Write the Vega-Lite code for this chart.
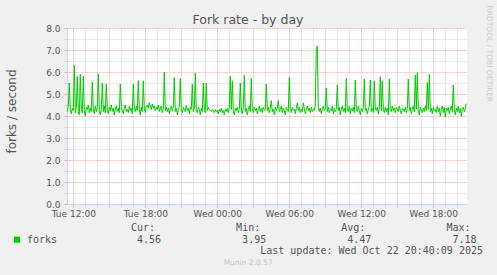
{
  "$schema": "https://vega.github.io/schema/vega-lite/v6.json",
  "width": 400,
  "height": 176,
  "autosize": {"type": "none"},
  "padding": {"left": 67, "top": 28, "right": 30, "bottom": 71},
  "background": "#F0F0F0",
  "view": {"fill": "#FFFFFF", "stroke": null},
  "config": {"font": "DejaVu Sans"},
  "title": {"text": "Fork rate - by day", "font": "DejaVu Sans", "fontSize": 12.5, "fontWeight": "normal", "color": "#555555", "anchor": "middle", "frame": "group", "dx": -19, "dy": 35, "offset": 4, "baseline": "alphabetic"},
  "layer": [
    {
      "data": {"values": [
        {"t":"2025-10-21T11:30","v":4.20},{"t":"2025-10-21T11:35","v":4.45},{"t":"2025-10-21T11:40","v":5.50},{"t":"2025-10-21T11:45","v":4.30},{"t":"2025-10-21T11:50","v":4.10},{"t":"2025-10-21T11:55","v":4.35},
        {"t":"2025-10-21T12:00","v":4.25},{"t":"2025-10-21T12:05","v":6.30},{"t":"2025-10-21T12:10","v":4.15},{"t":"2025-10-21T12:15","v":4.40},{"t":"2025-10-21T12:20","v":5.80},{"t":"2025-10-21T12:25","v":4.20},{"t":"2025-10-21T12:30","v":4.05},{"t":"2025-10-21T12:35","v":5.90},{"t":"2025-10-21T12:40","v":4.30},{"t":"2025-10-21T12:45","v":4.15},{"t":"2025-10-21T12:50","v":5.80},{"t":"2025-10-21T12:55","v":4.25},
        {"t":"2025-10-21T13:00","v":4.00},{"t":"2025-10-21T13:05","v":4.40},{"t":"2025-10-21T13:10","v":4.30},{"t":"2025-10-21T13:15","v":4.50},{"t":"2025-10-21T13:20","v":4.15},{"t":"2025-10-21T13:25","v":4.35},{"t":"2025-10-21T13:30","v":4.20},{"t":"2025-10-21T13:35","v":5.55},{"t":"2025-10-21T13:40","v":4.30},{"t":"2025-10-21T13:45","v":4.10},{"t":"2025-10-21T13:50","v":4.45},{"t":"2025-10-21T13:55","v":4.20},
        {"t":"2025-10-21T14:00","v":4.40},{"t":"2025-10-21T14:05","v":5.90},{"t":"2025-10-21T14:10","v":4.25},{"t":"2025-10-21T14:15","v":4.05},{"t":"2025-10-21T14:20","v":4.30},{"t":"2025-10-21T14:25","v":5.50},{"t":"2025-10-21T14:30","v":4.20},{"t":"2025-10-21T14:35","v":4.45},{"t":"2025-10-21T14:40","v":4.15},{"t":"2025-10-21T14:45","v":5.45},{"t":"2025-10-21T14:50","v":4.30},{"t":"2025-10-21T14:55","v":4.10},
        {"t":"2025-10-21T15:00","v":4.40},{"t":"2025-10-21T15:05","v":4.25},{"t":"2025-10-21T15:10","v":4.50},{"t":"2025-10-21T15:15","v":4.20},{"t":"2025-10-21T15:20","v":4.35},{"t":"2025-10-21T15:25","v":4.05},{"t":"2025-10-21T15:30","v":4.30},{"t":"2025-10-21T15:35","v":4.45},{"t":"2025-10-21T15:40","v":4.20},{"t":"2025-10-21T15:45","v":4.35},{"t":"2025-10-21T15:50","v":4.15},{"t":"2025-10-21T15:55","v":5.45},
        {"t":"2025-10-21T16:00","v":4.40},{"t":"2025-10-21T16:05","v":4.25},{"t":"2025-10-21T16:10","v":4.10},{"t":"2025-10-21T16:15","v":4.35},{"t":"2025-10-21T16:20","v":4.50},{"t":"2025-10-21T16:25","v":4.20},{"t":"2025-10-21T16:30","v":4.30},{"t":"2025-10-21T16:35","v":4.15},{"t":"2025-10-21T16:40","v":4.45},{"t":"2025-10-21T16:45","v":4.25},{"t":"2025-10-21T16:50","v":4.35},{"t":"2025-10-21T16:55","v":4.10},
        {"t":"2025-10-21T17:00","v":5.45},{"t":"2025-10-21T17:05","v":4.30},{"t":"2025-10-21T17:10","v":4.20},{"t":"2025-10-21T17:15","v":4.45},{"t":"2025-10-21T17:20","v":4.25},{"t":"2025-10-21T17:25","v":5.60},{"t":"2025-10-21T17:30","v":4.30},{"t":"2025-10-21T17:35","v":4.05},{"t":"2025-10-21T17:40","v":4.40},{"t":"2025-10-21T17:45","v":4.20},{"t":"2025-10-21T17:50","v":5.60},{"t":"2025-10-21T17:55","v":4.35},
        {"t":"2025-10-21T18:00","v":4.15},{"t":"2025-10-21T18:05","v":4.45},{"t":"2025-10-21T18:10","v":4.50},{"t":"2025-10-21T18:15","v":4.35},{"t":"2025-10-21T18:20","v":4.60},{"t":"2025-10-21T18:25","v":4.40},{"t":"2025-10-21T18:30","v":4.30},{"t":"2025-10-21T18:35","v":4.55},{"t":"2025-10-21T18:40","v":4.35},{"t":"2025-10-21T18:45","v":4.45},{"t":"2025-10-21T18:50","v":4.25},{"t":"2025-10-21T18:55","v":4.40},
        {"t":"2025-10-21T19:00","v":4.30},{"t":"2025-10-21T19:05","v":4.50},{"t":"2025-10-21T19:10","v":4.20},{"t":"2025-10-21T19:15","v":4.35},{"t":"2025-10-21T19:20","v":4.45},{"t":"2025-10-21T19:25","v":4.15},{"t":"2025-10-21T19:30","v":4.30},{"t":"2025-10-21T19:35","v":6.00},{"t":"2025-10-21T19:40","v":4.25},{"t":"2025-10-21T19:45","v":4.40},{"t":"2025-10-21T19:50","v":4.20},{"t":"2025-10-21T19:55","v":4.35},
        {"t":"2025-10-21T20:00","v":4.10},{"t":"2025-10-21T20:05","v":4.30},{"t":"2025-10-21T20:10","v":4.45},{"t":"2025-10-21T20:15","v":4.25},{"t":"2025-10-21T20:20","v":4.40},{"t":"2025-10-21T20:25","v":5.75},{"t":"2025-10-21T20:30","v":4.20},{"t":"2025-10-21T20:35","v":4.35},{"t":"2025-10-21T20:40","v":4.05},{"t":"2025-10-21T20:45","v":4.30},{"t":"2025-10-21T20:50","v":4.45},{"t":"2025-10-21T20:55","v":5.70},
        {"t":"2025-10-21T21:00","v":4.25},{"t":"2025-10-21T21:05","v":4.15},{"t":"2025-10-21T21:10","v":4.40},{"t":"2025-10-21T21:15","v":4.30},{"t":"2025-10-21T21:20","v":4.20},{"t":"2025-10-21T21:25","v":4.50},{"t":"2025-10-21T21:30","v":4.25},{"t":"2025-10-21T21:35","v":4.35},{"t":"2025-10-21T21:40","v":4.10},{"t":"2025-10-21T21:45","v":4.40},{"t":"2025-10-21T21:50","v":4.30},{"t":"2025-10-21T21:55","v":5.45},
        {"t":"2025-10-21T22:00","v":4.20},{"t":"2025-10-21T22:05","v":4.35},{"t":"2025-10-21T22:10","v":5.95},{"t":"2025-10-21T22:15","v":4.25},{"t":"2025-10-21T22:20","v":4.15},{"t":"2025-10-21T22:25","v":4.40},{"t":"2025-10-21T22:30","v":4.30},{"t":"2025-10-21T22:35","v":4.05},{"t":"2025-10-21T22:40","v":4.35},{"t":"2025-10-21T22:45","v":4.20},{"t":"2025-10-21T22:50","v":5.50},{"t":"2025-10-21T22:55","v":4.30},
        {"t":"2025-10-21T23:00","v":4.15},{"t":"2025-10-21T23:05","v":5.50},{"t":"2025-10-21T23:10","v":4.25},{"t":"2025-10-21T23:15","v":4.40},{"t":"2025-10-21T23:20","v":4.30},{"t":"2025-10-21T23:25","v":4.25},{"t":"2025-10-21T23:30","v":4.20},{"t":"2025-10-21T23:35","v":4.30},{"t":"2025-10-21T23:40","v":4.25},{"t":"2025-10-21T23:45","v":4.15},{"t":"2025-10-21T23:50","v":4.30},{"t":"2025-10-21T23:55","v":4.20},
        {"t":"2025-10-22T00:00","v":4.25},{"t":"2025-10-22T00:05","v":4.10},{"t":"2025-10-22T00:10","v":4.30},{"t":"2025-10-22T00:15","v":4.20},{"t":"2025-10-22T00:20","v":4.35},{"t":"2025-10-22T00:25","v":4.15},{"t":"2025-10-22T00:30","v":4.25},{"t":"2025-10-22T00:35","v":4.05},{"t":"2025-10-22T00:40","v":4.30},{"t":"2025-10-22T00:45","v":4.20},{"t":"2025-10-22T00:50","v":4.35},{"t":"2025-10-22T00:55","v":4.15},
        {"t":"2025-10-22T01:00","v":4.40},{"t":"2025-10-22T01:05","v":5.80},{"t":"2025-10-22T01:10","v":4.30},{"t":"2025-10-22T01:15","v":5.60},{"t":"2025-10-22T01:20","v":4.20},{"t":"2025-10-22T01:25","v":4.05},{"t":"2025-10-22T01:30","v":4.35},{"t":"2025-10-22T01:35","v":4.25},{"t":"2025-10-22T01:40","v":4.40},{"t":"2025-10-22T01:45","v":4.15},{"t":"2025-10-22T01:50","v":4.30},{"t":"2025-10-22T01:55","v":5.50},
        {"t":"2025-10-22T02:00","v":4.25},{"t":"2025-10-22T02:05","v":4.10},{"t":"2025-10-22T02:10","v":4.40},{"t":"2025-10-22T02:15","v":5.85},{"t":"2025-10-22T02:20","v":4.20},{"t":"2025-10-22T02:25","v":4.35},{"t":"2025-10-22T02:30","v":4.05},{"t":"2025-10-22T02:35","v":4.30},{"t":"2025-10-22T02:40","v":4.45},{"t":"2025-10-22T02:45","v":4.20},{"t":"2025-10-22T02:50","v":5.70},{"t":"2025-10-22T02:55","v":4.30},
        {"t":"2025-10-22T03:00","v":4.15},{"t":"2025-10-22T03:05","v":4.40},{"t":"2025-10-22T03:10","v":4.25},{"t":"2025-10-22T03:15","v":4.35},{"t":"2025-10-22T03:20","v":4.10},{"t":"2025-10-22T03:25","v":4.30},{"t":"2025-10-22T03:30","v":4.45},{"t":"2025-10-22T03:35","v":4.20},{"t":"2025-10-22T03:40","v":4.35},{"t":"2025-10-22T03:45","v":4.15},{"t":"2025-10-22T03:50","v":4.40},{"t":"2025-10-22T03:55","v":4.25},
        {"t":"2025-10-22T04:00","v":4.30},{"t":"2025-10-22T04:05","v":5.45},{"t":"2025-10-22T04:10","v":4.25},{"t":"2025-10-22T04:15","v":4.40},{"t":"2025-10-22T04:20","v":4.15},{"t":"2025-10-22T04:25","v":4.35},{"t":"2025-10-22T04:30","v":4.70},{"t":"2025-10-22T04:35","v":4.20},{"t":"2025-10-22T04:40","v":4.30},{"t":"2025-10-22T04:45","v":4.05},{"t":"2025-10-22T04:50","v":4.40},{"t":"2025-10-22T04:55","v":4.25},
        {"t":"2025-10-22T05:00","v":4.35},{"t":"2025-10-22T05:05","v":4.70},{"t":"2025-10-22T05:10","v":4.20},{"t":"2025-10-22T05:15","v":4.30},{"t":"2025-10-22T05:20","v":4.45},{"t":"2025-10-22T05:25","v":4.15},{"t":"2025-10-22T05:30","v":4.35},{"t":"2025-10-22T05:35","v":4.25},{"t":"2025-10-22T05:40","v":4.05},{"t":"2025-10-22T05:45","v":4.40},{"t":"2025-10-22T05:50","v":4.30},{"t":"2025-10-22T05:55","v":4.20},
        {"t":"2025-10-22T06:00","v":5.75},{"t":"2025-10-22T06:05","v":4.35},{"t":"2025-10-22T06:10","v":4.15},{"t":"2025-10-22T06:15","v":4.40},{"t":"2025-10-22T06:20","v":4.25},{"t":"2025-10-22T06:25","v":4.30},{"t":"2025-10-22T06:30","v":4.10},{"t":"2025-10-22T06:35","v":4.35},{"t":"2025-10-22T06:40","v":4.60},{"t":"2025-10-22T06:45","v":4.25},{"t":"2025-10-22T06:50","v":4.40},{"t":"2025-10-22T06:55","v":4.15},
        {"t":"2025-10-22T07:00","v":4.30},{"t":"2025-10-22T07:05","v":4.20},{"t":"2025-10-22T07:10","v":4.60},{"t":"2025-10-22T07:15","v":4.35},{"t":"2025-10-22T07:20","v":4.10},{"t":"2025-10-22T07:25","v":4.30},{"t":"2025-10-22T07:30","v":4.45},{"t":"2025-10-22T07:35","v":4.25},{"t":"2025-10-22T07:40","v":4.35},{"t":"2025-10-22T07:45","v":4.15},{"t":"2025-10-22T07:50","v":4.40},{"t":"2025-10-22T07:55","v":4.20},
        {"t":"2025-10-22T08:00","v":4.30},{"t":"2025-10-22T08:05","v":4.25},{"t":"2025-10-22T08:10","v":4.50},{"t":"2025-10-22T08:15","v":7.10},{"t":"2025-10-22T08:20","v":7.18},{"t":"2025-10-22T08:25","v":4.40},{"t":"2025-10-22T08:30","v":4.20},{"t":"2025-10-22T08:35","v":4.35},{"t":"2025-10-22T08:40","v":4.10},{"t":"2025-10-22T08:45","v":4.30},{"t":"2025-10-22T08:50","v":4.45},{"t":"2025-10-22T08:55","v":4.25},
        {"t":"2025-10-22T09:00","v":4.35},{"t":"2025-10-22T09:05","v":5.28},{"t":"2025-10-22T09:10","v":4.20},{"t":"2025-10-22T09:15","v":4.40},{"t":"2025-10-22T09:20","v":4.15},{"t":"2025-10-22T09:25","v":4.30},{"t":"2025-10-22T09:30","v":4.25},{"t":"2025-10-22T09:35","v":4.45},{"t":"2025-10-22T09:40","v":4.10},{"t":"2025-10-22T09:45","v":4.35},{"t":"2025-10-22T09:50","v":4.20},{"t":"2025-10-22T09:55","v":4.30},
        {"t":"2025-10-22T10:00","v":5.41},{"t":"2025-10-22T10:05","v":4.25},{"t":"2025-10-22T10:10","v":4.40},{"t":"2025-10-22T10:15","v":4.05},{"t":"2025-10-22T10:20","v":4.30},{"t":"2025-10-22T10:25","v":4.45},{"t":"2025-10-22T10:30","v":4.20},{"t":"2025-10-22T10:35","v":4.35},{"t":"2025-10-22T10:40","v":4.15},{"t":"2025-10-22T10:45","v":5.71},{"t":"2025-10-22T10:50","v":4.30},{"t":"2025-10-22T10:55","v":4.20},
        {"t":"2025-10-22T11:00","v":4.45},{"t":"2025-10-22T11:05","v":4.10},{"t":"2025-10-22T11:10","v":4.35},{"t":"2025-10-22T11:15","v":4.25},{"t":"2025-10-22T11:20","v":4.40},{"t":"2025-10-22T11:25","v":4.15},{"t":"2025-10-22T11:30","v":5.64},{"t":"2025-10-22T11:35","v":4.30},{"t":"2025-10-22T11:40","v":4.20},{"t":"2025-10-22T11:45","v":4.45},{"t":"2025-10-22T11:50","v":4.25},{"t":"2025-10-22T11:55","v":4.05},
        {"t":"2025-10-22T12:00","v":4.35},{"t":"2025-10-22T12:05","v":4.20},{"t":"2025-10-22T12:10","v":4.40},{"t":"2025-10-22T12:15","v":5.68},{"t":"2025-10-22T12:20","v":4.25},{"t":"2025-10-22T12:25","v":4.35},{"t":"2025-10-22T12:30","v":4.10},{"t":"2025-10-22T12:35","v":4.30},{"t":"2025-10-22T12:40","v":4.45},{"t":"2025-10-22T12:45","v":5.64},{"t":"2025-10-22T12:50","v":4.20},{"t":"2025-10-22T12:55","v":4.35},
        {"t":"2025-10-22T13:00","v":4.15},{"t":"2025-10-22T13:05","v":5.60},{"t":"2025-10-22T13:10","v":4.30},{"t":"2025-10-22T13:15","v":4.25},{"t":"2025-10-22T13:20","v":4.40},{"t":"2025-10-22T13:25","v":4.10},{"t":"2025-10-22T13:30","v":4.35},{"t":"2025-10-22T13:35","v":5.78},{"t":"2025-10-22T13:40","v":4.25},{"t":"2025-10-22T13:45","v":5.60},{"t":"2025-10-22T13:50","v":4.30},{"t":"2025-10-22T13:55","v":4.15},
        {"t":"2025-10-22T14:00","v":4.40},{"t":"2025-10-22T14:05","v":4.20},{"t":"2025-10-22T14:10","v":4.35},{"t":"2025-10-22T14:15","v":4.05},{"t":"2025-10-22T14:20","v":5.68},{"t":"2025-10-22T14:25","v":4.30},{"t":"2025-10-22T14:30","v":4.20},{"t":"2025-10-22T14:35","v":4.45},{"t":"2025-10-22T14:40","v":4.25},{"t":"2025-10-22T14:45","v":4.35},{"t":"2025-10-22T14:50","v":4.15},{"t":"2025-10-22T14:55","v":4.40},
        {"t":"2025-10-22T15:00","v":4.30},{"t":"2025-10-22T15:05","v":4.20},{"t":"2025-10-22T15:10","v":4.45},{"t":"2025-10-22T15:15","v":4.25},{"t":"2025-10-22T15:20","v":4.10},{"t":"2025-10-22T15:25","v":4.35},{"t":"2025-10-22T15:30","v":4.30},{"t":"2025-10-22T15:35","v":4.20},{"t":"2025-10-22T15:40","v":4.40},{"t":"2025-10-22T15:45","v":4.15},{"t":"2025-10-22T15:50","v":4.35},{"t":"2025-10-22T15:55","v":5.68},
        {"t":"2025-10-22T16:00","v":4.25},{"t":"2025-10-22T16:05","v":4.40},{"t":"2025-10-22T16:10","v":4.10},{"t":"2025-10-22T16:15","v":4.30},{"t":"2025-10-22T16:20","v":4.45},{"t":"2025-10-22T16:25","v":4.20},{"t":"2025-10-22T16:30","v":5.86},{"t":"2025-10-22T16:35","v":4.30},{"t":"2025-10-22T16:40","v":5.97},{"t":"2025-10-22T16:45","v":4.25},{"t":"2025-10-22T16:50","v":4.05},{"t":"2025-10-22T16:55","v":4.40},
        {"t":"2025-10-22T17:00","v":4.30},{"t":"2025-10-22T17:05","v":4.15},{"t":"2025-10-22T17:10","v":4.35},{"t":"2025-10-22T17:15","v":4.20},{"t":"2025-10-22T17:20","v":4.45},{"t":"2025-10-22T17:25","v":4.25},{"t":"2025-10-22T17:30","v":5.52},{"t":"2025-10-22T17:35","v":4.30},{"t":"2025-10-22T17:40","v":5.90},{"t":"2025-10-22T17:45","v":4.20},{"t":"2025-10-22T17:50","v":4.35},{"t":"2025-10-22T17:55","v":4.10},
        {"t":"2025-10-22T18:00","v":4.40},{"t":"2025-10-22T18:05","v":4.25},{"t":"2025-10-22T18:10","v":4.30},{"t":"2025-10-22T18:15","v":4.15},{"t":"2025-10-22T18:20","v":4.45},{"t":"2025-10-22T18:25","v":4.20},{"t":"2025-10-22T18:30","v":4.35},{"t":"2025-10-22T18:35","v":4.00},{"t":"2025-10-22T18:40","v":4.30},{"t":"2025-10-22T18:45","v":4.45},{"t":"2025-10-22T18:50","v":4.15},{"t":"2025-10-22T18:55","v":4.40},
        {"t":"2025-10-22T19:00","v":3.95},{"t":"2025-10-22T19:05","v":4.35},{"t":"2025-10-22T19:10","v":4.25},{"t":"2025-10-22T19:15","v":4.40},{"t":"2025-10-22T19:20","v":4.10},{"t":"2025-10-22T19:25","v":4.30},{"t":"2025-10-22T19:30","v":4.45},{"t":"2025-10-22T19:35","v":4.20},{"t":"2025-10-22T19:40","v":5.41},{"t":"2025-10-22T19:45","v":4.30},{"t":"2025-10-22T19:50","v":4.05},{"t":"2025-10-22T19:55","v":4.35},
        {"t":"2025-10-22T20:00","v":4.20},{"t":"2025-10-22T20:05","v":4.45},{"t":"2025-10-22T20:10","v":4.15},{"t":"2025-10-22T20:15","v":4.35},{"t":"2025-10-22T20:20","v":3.98},{"t":"2025-10-22T20:25","v":4.30},{"t":"2025-10-22T20:30","v":4.40},{"t":"2025-10-22T20:35","v":4.20},{"t":"2025-10-22T20:40","v":4.35},{"t":"2025-10-22T20:45","v":4.56}
      ]},
      "mark": {"type": "line", "strokeWidth": 1, "color": "#00CC00"},
      "encoding": {
        "x": {
          "field": "t", "type": "temporal",
          "scale": {"domain": [{"year": 2025, "month": 10, "date": 21, "hours": 11, "minutes": 28, "seconds": 30}, {"year": 2025, "month": 10, "date": 22, "hours": 20, "minutes": 48, "seconds": 30}], "nice": false},
          "axis": {
            "title": null,
            "values": [
              {"year": 2025, "month": 10, "date": 21, "hours": 12}, {"year": 2025, "month": 10, "date": 21, "hours": 13}, {"year": 2025, "month": 10, "date": 21, "hours": 14}, {"year": 2025, "month": 10, "date": 21, "hours": 15},
              {"year": 2025, "month": 10, "date": 21, "hours": 16}, {"year": 2025, "month": 10, "date": 21, "hours": 17}, {"year": 2025, "month": 10, "date": 21, "hours": 18}, {"year": 2025, "month": 10, "date": 21, "hours": 19},
              {"year": 2025, "month": 10, "date": 21, "hours": 20}, {"year": 2025, "month": 10, "date": 21, "hours": 21}, {"year": 2025, "month": 10, "date": 21, "hours": 22}, {"year": 2025, "month": 10, "date": 21, "hours": 23},
              {"year": 2025, "month": 10, "date": 22, "hours": 0}, {"year": 2025, "month": 10, "date": 22, "hours": 1}, {"year": 2025, "month": 10, "date": 22, "hours": 2}, {"year": 2025, "month": 10, "date": 22, "hours": 3},
              {"year": 2025, "month": 10, "date": 22, "hours": 4}, {"year": 2025, "month": 10, "date": 22, "hours": 5}, {"year": 2025, "month": 10, "date": 22, "hours": 6}, {"year": 2025, "month": 10, "date": 22, "hours": 7},
              {"year": 2025, "month": 10, "date": 22, "hours": 8}, {"year": 2025, "month": 10, "date": 22, "hours": 9}, {"year": 2025, "month": 10, "date": 22, "hours": 10}, {"year": 2025, "month": 10, "date": 22, "hours": 11},
              {"year": 2025, "month": 10, "date": 22, "hours": 12}, {"year": 2025, "month": 10, "date": 22, "hours": 13}, {"year": 2025, "month": 10, "date": 22, "hours": 14}, {"year": 2025, "month": 10, "date": 22, "hours": 15},
              {"year": 2025, "month": 10, "date": 22, "hours": 16}, {"year": 2025, "month": 10, "date": 22, "hours": 17}, {"year": 2025, "month": 10, "date": 22, "hours": 18}, {"year": 2025, "month": 10, "date": 22, "hours": 19},
              {"year": 2025, "month": 10, "date": 22, "hours": 20}
            ],
            "labelExpr": "hours(datum.value) % 6 === 0 ? timeFormat(datum.value, '%a %H:%M') : ''",
            "labelOverlap": false, "labelFlush": false,
            "labelFont": "DejaVu Sans", "labelFontSize": 9, "labelColor": "#555555", "labelPadding": 2,
            "grid": true,
            "gridColor": {"condition": {"test": "hours(datum.value) % 3 === 0", "value": "#E6AAAA"}, "value": "#D4D4D4"},
            "gridDash": [1, 1],
            "ticks": true, "tickSize": 3,
            "tickColor": {"condition": {"test": "hours(datum.value) % 3 === 0", "value": "#E6AAAA"}, "value": "#D4D4D4"},
            "domainColor": "#CFD6F8"
          }
        },
        "y": {
          "field": "v", "type": "quantitative",
          "scale": {"domain": [0, 8], "nice": false},
          "axis": {
            "title": "forks / second",
            "values": [0, 0.5, 1, 1.5, 2, 2.5, 3, 3.5, 4, 4.5, 5, 5.5, 6, 6.5, 7, 7.5, 8],
            "labelExpr": "datum.value % 1 === 0 ? format(datum.value, '.1f') : ''",
            "labelOverlap": false, "labelFlush": false,
            "labelFont": "DejaVu Sans", "labelFontSize": 9, "labelColor": "#555555", "labelPadding": 4,
            "ticks": true, "tickSize": 3,
            "tickColor": {"condition": {"test": "datum.value % 1 === 0", "value": "#E6AAAA"}, "value": "#D4D4D4"},
            "grid": true,
            "gridColor": {"condition": {"test": "datum.value % 1 === 0", "value": "#E6AAAA"}, "value": "#D4D4D4"},
            "gridDash": [1, 1],
            "domainColor": "#CFD6F8",
            "titleFont": "DejaVu Sans", "titleFontSize": 12, "titleFontWeight": "normal", "titleColor": "#555555",
            "titleAngle": 270, "titleX": -52, "titleY": 83, "titleBaseline": "alphabetic", "titleAlign": "center"
          }
        }
      }
    },
    {
      "data": {"values": [{"stat": "Cur", "label": "Cur:", "val": "4.56"}, {"stat": "Min", "label": "Min:", "val": "3.95"}, {"stat": "Avg", "label": "Avg:", "val": "4.47"}, {"stat": "Max", "label": "Max:", "val": "7.18"}]},
      "mark": {"type": "text", "font": "DejaVu Sans Mono", "fontSize": 10, "color": "#555555", "baseline": "middle"},
      "encoding": {
        "x": {"field": "stat", "type": "nominal", "sort": null, "scale": {"type": "point", "domain": ["Cur", "Min", "Avg", "Max"], "range": [76, 391.5], "padding": 0}, "axis": null},
        "y": {"datum": "head", "type": "nominal", "scale": {"type": "point", "domain": ["head", "val", "upd", "munin"], "range": [200, 235], "padding": 0},
          "axis": {"orient": "right", "title": "RRDTOOL / TOBI OETIKER", "labels": false, "ticks": false, "domain": false, "grid": false,
            "titleAngle": 90, "titleX": 19, "titleY": -23, "titleAlign": "left", "titleBaseline": "alphabetic",
            "titleFont": "DejaVu Sans", "titleFontSize": 7.5, "titleFontWeight": "normal", "titleColor": "#CCCCCC"}},
        "text": {"field": "label"}
      }
    },
    {
      "data": {"values": [{"stat": "Cur", "label": "Cur:", "val": "4.56"}, {"stat": "Min", "label": "Min:", "val": "3.95"}, {"stat": "Avg", "label": "Avg:", "val": "4.47"}, {"stat": "Max", "label": "Max:", "val": "7.18"}]},
      "mark": {"type": "text", "font": "DejaVu Sans Mono", "fontSize": 10, "color": "#555555", "baseline": "middle", "dx": 6},
      "encoding": {
        "x": {"field": "stat", "type": "nominal", "sort": null, "scale": {"type": "point", "domain": ["Cur", "Min", "Avg", "Max"], "range": [76, 391.5], "padding": 0}, "axis": null},
        "y": {"datum": "val", "type": "nominal", "scale": {"type": "point", "domain": ["head", "val", "upd", "munin"], "range": [200, 235], "padding": 0}, "axis": null},
        "text": {"field": "val"}
      }
    },
    {
      "data": {"values": [{"txt": "Last update: Wed Oct 22 20:40:09 2025"}]},
      "mark": {"type": "text", "font": "DejaVu Sans Mono", "fontSize": 10, "color": "#555555", "baseline": "middle", "align": "right", "dx": 24.5},
      "encoding": {
        "x": {"datum": "Max", "type": "nominal", "scale": {"type": "point", "domain": ["Cur", "Min", "Avg", "Max"], "range": [76, 391.5], "padding": 0}, "axis": null},
        "y": {"datum": "upd", "type": "nominal", "scale": {"type": "point", "domain": ["head", "val", "upd", "munin"], "range": [200, 235], "padding": 0}, "axis": null},
        "text": {"field": "txt"}
      }
    },
    {
      "data": {"values": [{"txt": "Munin 2.0.57"}]},
      "mark": {"type": "text", "font": "DejaVu Sans", "fontSize": 7.5, "color": "#C4C4C4", "baseline": "middle", "align": "center"},
      "encoding": {
        "x": {"datum": "Min", "type": "nominal", "scale": {"type": "point", "domain": ["Cur", "Min", "Avg", "Max"], "range": [76, 391.5], "padding": 0}, "axis": null},
        "y": {"datum": "munin", "type": "nominal", "scale": {"type": "point", "domain": ["head", "val", "upd", "munin"], "range": [200, 235], "padding": 0}, "axis": null},
        "text": {"field": "txt"}
      }
    },
    {
      "data": {"values": [{"series": "forks"}]},
      "mark": {"type": "point", "shape": "square", "size": 36, "filled": true, "color": "#00CC00", "opacity": 1, "strokeWidth": 0},
      "encoding": {
        "x": {"datum": "key", "type": "nominal", "scale": {"type": "point", "domain": ["key", "name"], "range": [-50, -40], "padding": 0}, "axis": null},
        "y": {"datum": "val", "type": "nominal", "scale": {"type": "point", "domain": ["head", "val", "upd", "munin"], "range": [200, 235], "padding": 0}, "axis": null}
      }
    },
    {
      "data": {"values": [{"series": "forks"}]},
      "mark": {"type": "text", "font": "DejaVu Sans Mono", "fontSize": 10, "color": "#555555", "baseline": "middle", "align": "left"},
      "encoding": {
        "x": {"datum": "name", "type": "nominal", "scale": {"type": "point", "domain": ["key", "name"], "range": [-50, -40], "padding": 0}, "axis": null},
        "y": {"datum": "val", "type": "nominal", "scale": {"type": "point", "domain": ["head", "val", "upd", "munin"], "range": [200, 235], "padding": 0}, "axis": null},
        "text": {"field": "series"}
      }
    }
  ],
  "resolve": {
    "scale": {"x": "independent", "y": "independent"},
    "axis": {"x": "independent", "y": "independent"}
  }
}
